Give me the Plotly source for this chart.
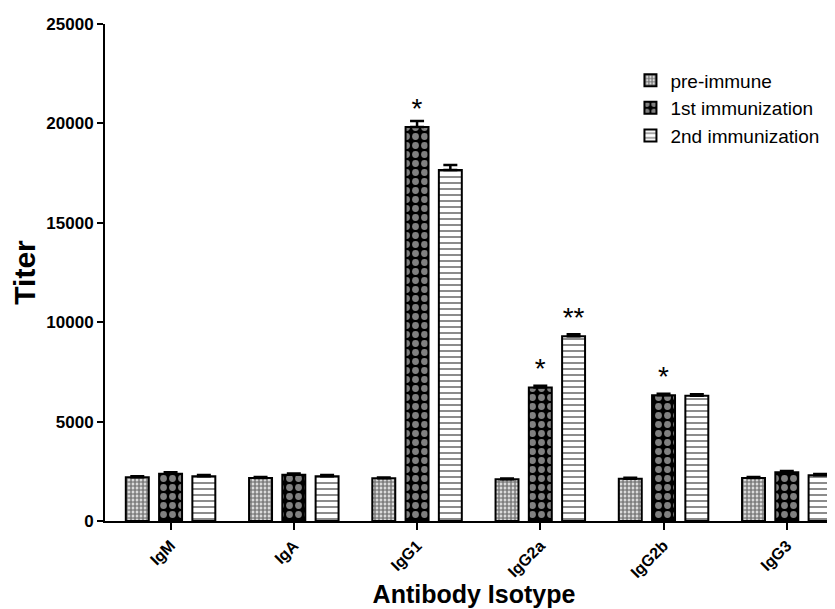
import plotly.graph_objects as go

categories = ["IgM", "IgA", "IgG1", "IgG2a", "IgG2b", "IgG3"]
series_names = ["pre-immune", "1st immunization", "2nd immunization"]
pre_immune = [2200, 2160, 2150, 2100, 2130, 2160]
first_imm = [2380, 2330, 19820, 6720, 6330, 2450]
second_imm = [2250, 2250, 17660, 9290, 6300, 2300]
pre_err = [50, 50, 40, 40, 40, 50]
first_err = [70, 60, 300, 80, 70, 60]
second_err = [60, 60, 250, 110, 80, 70]
pre_sig = ["", "", "", "", "", ""]
first_sig = ["", "", "*", "*", "*", ""]
second_sig = ["", "", "", "**", "", ""]
y_ticks = [0, 5000, 10000, 15000, 20000, 25000]
y_tick_labels = ["0", "5000", "10000", "15000", "20000", "25000"]

FONT = "Liberation Sans, Arial, sans-serif"

patterns = [
    dict(shape=".", size=4, solidity=0.72, fgcolor="black", bgcolor="white"),
    dict(shape=".", size=9, solidity=0.45, fgcolor="white", bgcolor="black"),
    dict(shape="-", size=6, solidity=0.3, fgcolor="black", bgcolor="white"),
]

fig = go.Figure()
for name, vals, errs, sig, pat in zip(
    series_names,
    [pre_immune, first_imm, second_imm],
    [pre_err, first_err, second_err],
    [pre_sig, first_sig, second_sig],
    patterns,
):
    fig.add_trace(go.Bar(
        name=name, x=categories, y=vals,
        marker=dict(color="white", pattern=pat, line=dict(color="black", width=2)),
        error_y=dict(type="data", array=errs, arrayminus=[0] * len(errs), symmetric=False,
                     visible=True, color="black", thickness=2.5, width=7),
        text=sig, textposition="outside", constraintext="none", cliponaxis=False,
        textfont=dict(family=FONT, size=28, color="black"),
    ))

fig.update_layout(
    width=835, height=609,
    margin=dict(l=97, r=0, t=16, b=96, autoexpand=False),
    paper_bgcolor="white", plot_bgcolor="white",
    barmode="group", bargap=0.19, bargroupgap=0.31,
    font=dict(family=FONT, color="black"),
    showlegend=True,
    legend=dict(x=0.712, y=0.925, xanchor="left", yanchor="top",
                font=dict(family=FONT, size=19, color="black"),
                bgcolor="rgba(0,0,0,0)", itemsizing="constant"),
)
fig.update_xaxes(
    range=[-0.532, 5.456], showline=True, linecolor="black", linewidth=2,
    ticks="outside", ticklen=7, tickwidth=2, tickcolor="black",
    tickangle=-45, tickfont=dict(family=FONT, size=16, color="black", weight="bold"),
    title=dict(text="<b>Antibody Isotype</b>", font=dict(family=FONT, size=25, color="black"), standoff=2),
    showgrid=False, zeroline=False, automargin=False,
)
fig.update_yaxes(
    range=[0, 25000], tickvals=y_ticks, ticktext=y_tick_labels,
    showline=True, linecolor="black", linewidth=2,
    ticks="outside", ticklen=6, tickwidth=2, tickcolor="black",
    tickfont=dict(family=FONT, size=17, color="black", weight="bold"),
    title=dict(text="<b>Titer</b>", font=dict(family=FONT, size=30, color="black"), standoff=8),
    showgrid=False, zeroline=False, automargin=False,
)
fig.write_html("out.html")
